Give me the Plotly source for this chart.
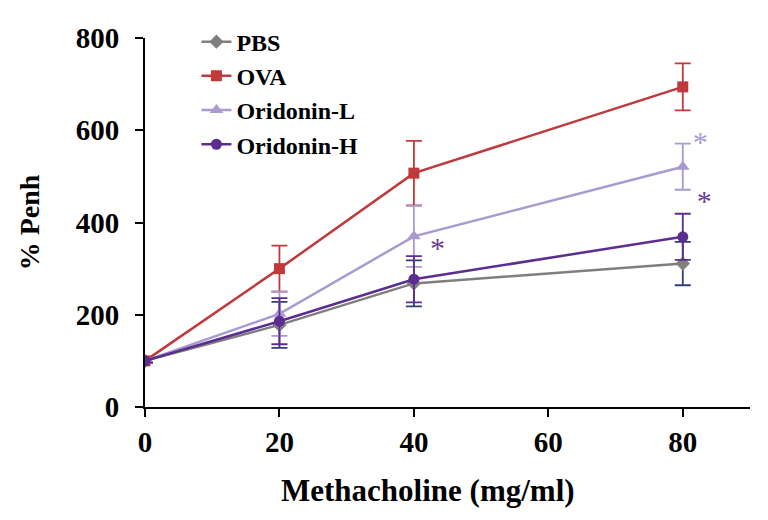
import plotly.graph_objects as go

## data
dose = [0, 20, 40, 80]

pbs = [100, 178, 268, 311]
pbs_err = [4, 50, 50, 47]

ova = [100, 300, 507, 694]
ova_err = [4, 50, 70, 51]

ori_l = [100, 202, 370, 521]
ori_l_err = [4, 48, 66, 50]

ori_h = [100, 186, 277, 369]
ori_h_err = [4, 50, 50, 50]

star_x = [43.5, 82.6, 83.2]
star_y = [339, 569, 441]
star_colors = ['#6a3d9a', '#a99bd0', '#6a3d9a']

series = [
    ('PBS', pbs, pbs_err, '#7f7f7f', '#2f3d7a', 'diamond', 11),
    ('OVA', ova, ova_err, '#c0393b', '#c0393b', 'square', 11),
    ('Oridonin-L', ori_l, ori_l_err, '#a99bd0', '#a99bd0', 'triangle-up', 12),
    ('Oridonin-H', ori_h, ori_h_err, '#5b2d90', '#5b2d90', 'circle', 11),
]

fig = go.Figure()

for name, vals, errs, col, ecol, sym, size in series:
    fig.add_trace(go.Scatter(
        x=dose, y=vals, name=name, mode='lines+markers',
        line=dict(color=col, width=2.5),
        marker=dict(symbol=sym, size=size, color=col),
        error_y=dict(type='data', array=errs, color=ecol, thickness=1.8, width=8),
    ))

fig.add_trace(go.Scatter(
    x=star_x, y=star_y, mode='text', text=['*'] * len(star_x),
    textfont=dict(size=30, color=star_colors, family='Liberation Serif'),
    showlegend=False, hoverinfo='skip'
))

# x title sits a bit left of centre in the original, so use an annotation
fig.add_annotation(
    text='Methacholine (mg/ml)', xref='paper', yref='paper',
    x=0.468, y=-0.225, xanchor='center', yanchor='middle', showarrow=False,
    font=dict(size=31, weight='bold', family='Liberation Serif', color='black'),
)

# page body has an 8px margin, so the figure is a little smaller than the window
fig.update_layout(
    width=760, height=512,
    margin=dict(l=137, r=18, t=24, b=113),
    plot_bgcolor='white', paper_bgcolor='white',
    font=dict(family='Liberation Serif', color='black'),
    legend=dict(
        x=0.085, y=1.05, xanchor='left', yanchor='top',
        font=dict(size=24, family='Liberation Serif', color='black', weight='bold'),
        bgcolor='rgba(0,0,0,0)', tracegroupgap=0,
    ),
    xaxis=dict(
        range=[0, 90], tickvals=[0, 20, 40, 60, 80],
        showline=True, linecolor='black', linewidth=2,
        ticks='outside', ticklen=8, tickwidth=2, tickcolor='black',
        showgrid=False, zeroline=False,
        tickfont=dict(size=29, weight='bold'),
    ),
    yaxis=dict(
        range=[0, 800], tickvals=[0, 200, 400, 600, 800],
        showline=True, linecolor='black', linewidth=2,
        ticks='outside', ticklen=8, tickwidth=2, tickcolor='black',
        ticklabelstandoff=10,
        showgrid=False, zeroline=False,
        tickfont=dict(size=29, weight='bold'),
        title=dict(text='% Penh', font=dict(size=28, weight='bold'), standoff=28),
    ),
)

fig.write_html("out.html")
